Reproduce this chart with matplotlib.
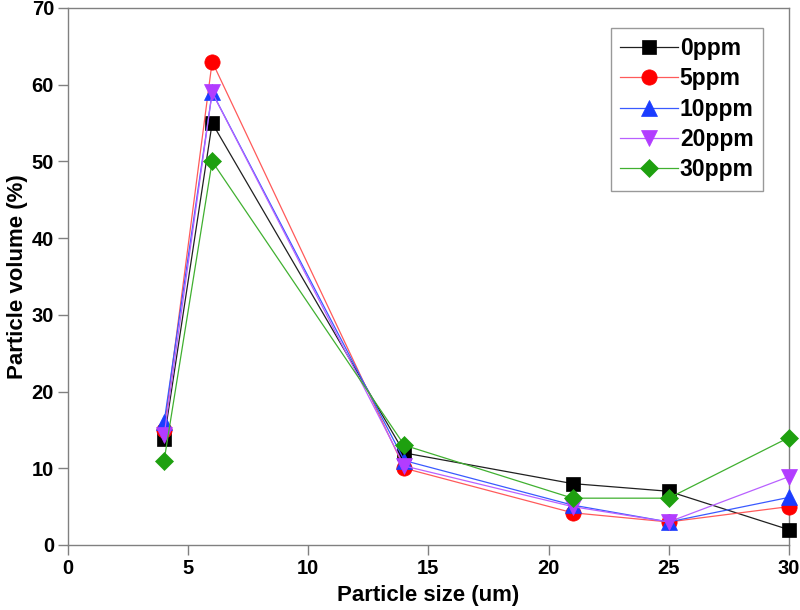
import matplotlib
matplotlib.use("Agg")
import matplotlib.pyplot as plt

plt.rcParams["font.family"] = ["Liberation Sans", "DejaVu Sans"]
plt.rcParams["font.weight"] = "bold"

particle_size = [4, 6, 14, 21, 25, 30]
series_labels = ["0ppm", "5ppm", "10ppm", "20ppm", "30ppm"]
vol_0ppm = [13.8, 55, 12, 8, 7, 2]
vol_5ppm = [15, 63, 10, 4.2, 3, 5]
vol_10ppm = [16, 59, 11, 5.2, 3, 6.2]
vol_20ppm = [14.3, 59, 10.3, 5, 3, 8.9]
vol_30ppm = [11, 50, 13, 6.1, 6.1, 14]

series = [vol_0ppm, vol_5ppm, vol_10ppm, vol_20ppm, vol_30ppm]
marker_colors = ["#000000", "#ff0000", "#1a3cff", "#b23cff", "#1ea00f"]
line_colors = ["#202020", "#ff5a5a", "#3a5aff", "#b860ff", "#40b030"]
markers = ["s", "o", "^", "v", "D"]
sizes = [10, 11, 11, 11, 9]

fig = plt.figure(figsize=(8, 6.1), dpi=100)
ax = fig.add_axes([0.085, 0.1066, 0.901, 0.8803])

for vals, lab, mc, lc, m, ms in zip(series, series_labels, marker_colors, line_colors, markers, sizes):
    ax.plot(particle_size, vals, color=lc, lw=0.9, marker=m, markersize=ms,
            markerfacecolor=mc, markeredgecolor=mc, markeredgewidth=0.5,
            label=lab, clip_on=False, zorder=3)

ax.set_xlim(0, 30)
ax.set_ylim(0, 70)
ax.set_xticks([0, 5, 10, 15, 20, 25, 30])
ax.set_yticks(range(0, 71, 10))
ax.tick_params(direction="out", length=7, width=1, color="#808080", labelsize=14.5, pad=3)
for s in ax.spines.values():
    s.set_color("#808080")
    s.set_linewidth(1)

ax.set_xlabel("Particle size (um)", fontsize=16, fontweight="bold", labelpad=5)
ax.set_ylabel("Particle volume (%)", fontsize=16, fontweight="bold", labelpad=3)

leg = ax.legend(loc="upper right", bbox_to_anchor=(0.964, 0.963), borderaxespad=0,
                fontsize=16.5, frameon=True, fancybox=False, edgecolor="#808080",
                handlelength=2.5, handletextpad=0.1, borderpad=0.4, labelspacing=0.32)
leg.get_frame().set_linewidth(1)

fig.savefig("out.png", dpi=100)
